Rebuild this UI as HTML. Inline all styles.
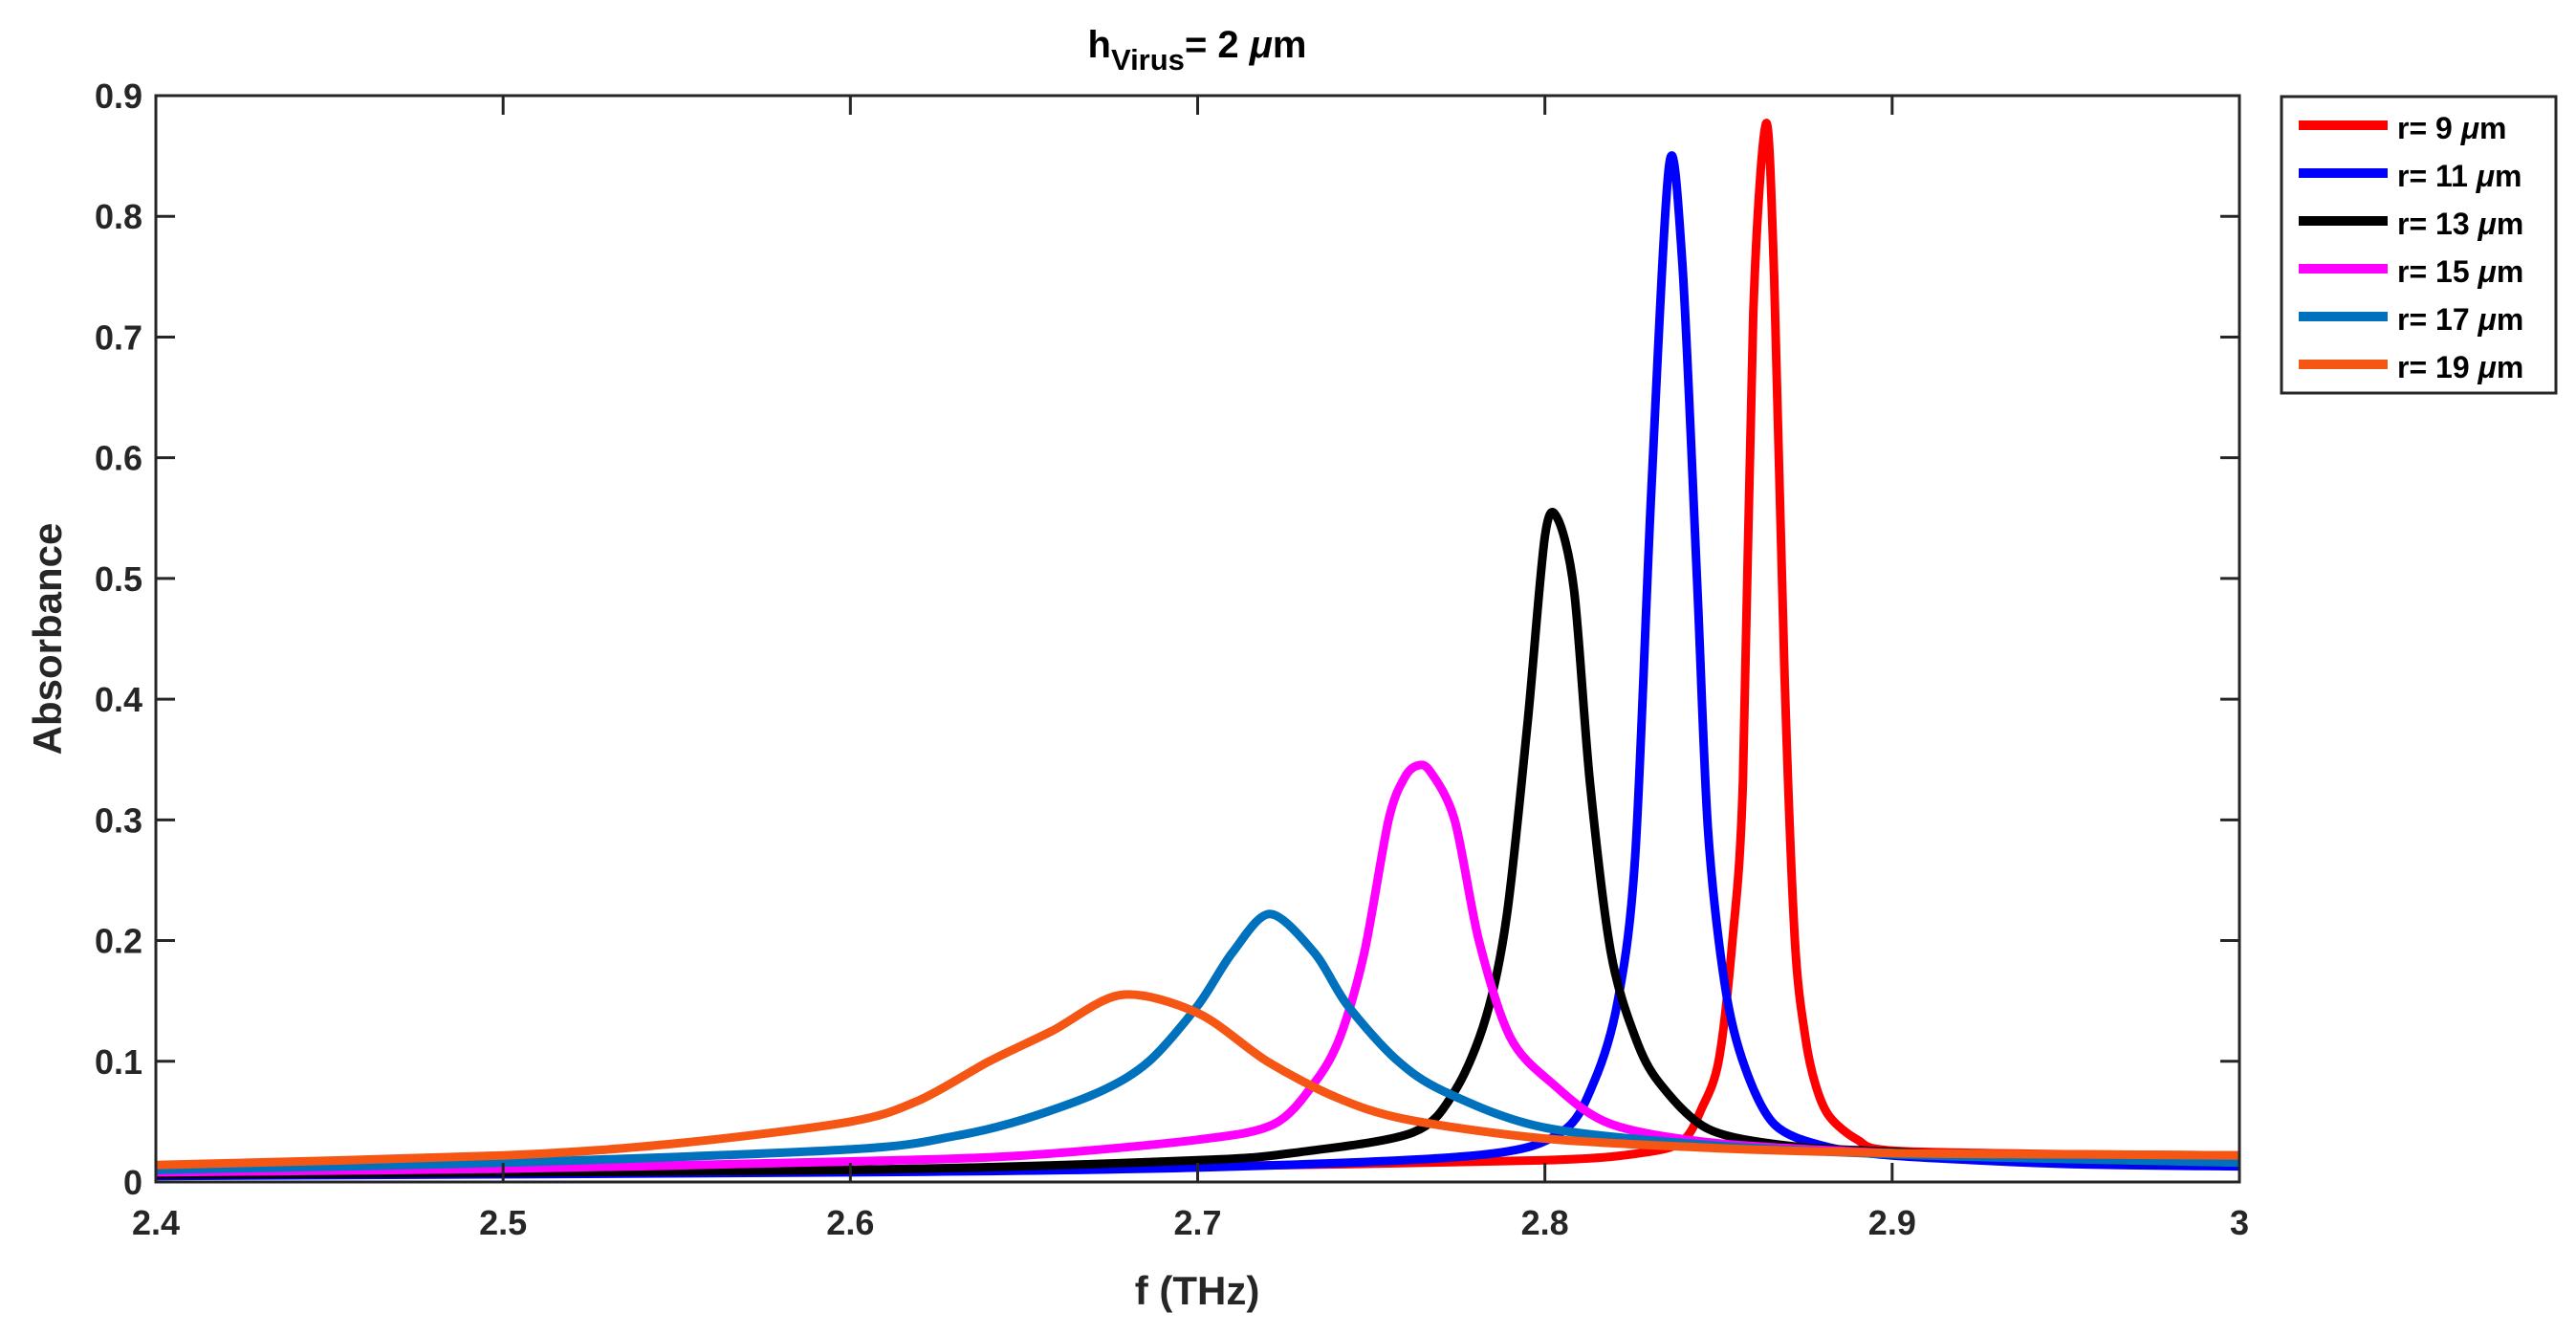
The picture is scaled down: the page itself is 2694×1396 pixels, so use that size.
<!DOCTYPE html>
<html><head><meta charset="utf-8"><style>
html,body{margin:0;padding:0;background:#fff;}
svg{display:block;font-family:"Liberation Sans",Arial,sans-serif;}
</style></head><body>
<svg id="chart" width="2694" height="1396" viewBox="0 0 2694 1396">
<rect x="0" y="0" width="2694" height="1396" fill="#fff"/>
<g id="plot"></g>
<g id="axes"></g>
<text x="1252" y="60" text-anchor="middle" font-size="40" font-weight="bold" fill="#000">h<tspan font-size="31" dy="13">Virus</tspan><tspan dy="-13">= 2 </tspan><tspan font-style="italic">μ</tspan>m</text>
<text x="1252" y="1364" text-anchor="middle" font-size="42" font-weight="bold" fill="#262626">f (THz)</text>
<text transform="translate(64,668) rotate(-90)" text-anchor="middle" font-size="42" font-weight="bold" fill="#262626">Absorbance</text>
<g id="legend"></g>
</svg>
<script>
const seriesNames = ["r= 9 ","r= 11 ","r= 13 ","r= 15 ","r= 17 ","r= 19 "];
const seriesColors = ["#ff0000","#0000ff","#000000","#ff00ff","#0072bd","#f55614"];
const xTicks = [2.4,2.5,2.6,2.7,2.8,2.9,3.0];
const xTickLabels = ["2.4","2.5","2.6","2.7","2.8","2.9","3"];
const yTicks = [0,0.1,0.2,0.3,0.4,0.5,0.6,0.7,0.8,0.9];
const yTickLabels = ["0","0.1","0.2","0.3","0.4","0.5","0.6","0.7","0.8","0.9"];
const red_f = [2.4,2.6,2.7,2.8,2.83,2.84,2.845,2.85,2.854,2.857,2.86,2.8637,2.866,2.869,2.872,2.875,2.878,2.882,2.89,2.9,2.95,3.0];
const red_a = [0.008,0.01,0.013,0.018,0.025,0.035,0.06,0.1,0.2,0.33,0.72,0.877,0.75,0.42,0.2,0.12,0.08,0.054,0.035,0.026,0.023,0.022];
const blue_f = [2.4,2.6,2.7,2.78,2.8046,2.814,2.821,2.826,2.8306,2.8358,2.8396,2.8438,2.847,2.852,2.8576,2.866,2.88,2.9,2.95,3.0];
const blue_a = [0.005,0.008,0.012,0.022,0.041,0.082,0.15,0.27,0.57,0.843,0.76,0.5,0.29,0.16,0.095,0.048,0.03,0.022,0.015,0.013];
const black_f = [2.4,2.6,2.7,2.73,2.762,2.774,2.783,2.789,2.795,2.8,2.8036,2.8084,2.813,2.819,2.826,2.833,2.847,2.87,2.9,2.95,3.0];
const black_a = [0.006,0.01,0.018,0.025,0.041,0.075,0.136,0.22,0.38,0.535,0.55,0.49,0.33,0.19,0.12,0.082,0.044,0.03,0.025,0.019,0.016];
const mag_f = [2.4,2.5,2.6,2.65,2.7,2.722,2.7336,2.741,2.748,2.755,2.7596,2.7634,2.767,2.774,2.781,2.79,2.802,2.819,2.85,2.9,2.95,3.0];
const mag_a = [0.008,0.011,0.017,0.022,0.035,0.048,0.082,0.12,0.19,0.3,0.335,0.345,0.34,0.3,0.2,0.12,0.082,0.048,0.032,0.024,0.02,0.018];
const sb_f = [2.4,2.5,2.6,2.63,2.65,2.672,2.686,2.7,2.71,2.7208,2.7336,2.743,2.757,2.771,2.8,2.85,2.9,2.95,3.0];
const sb_a = [0.01,0.016,0.027,0.038,0.052,0.075,0.1,0.146,0.19,0.222,0.19,0.147,0.102,0.075,0.045,0.03,0.023,0.019,0.016];
const or_f = [2.4,2.5,2.55,2.6,2.62,2.64,2.658,2.678,2.7,2.72,2.74,2.76,2.8,2.85,2.9,2.95,3.0];
const or_a = [0.014,0.022,0.032,0.05,0.068,0.1,0.125,0.155,0.14,0.1,0.07,0.052,0.036,0.028,0.024,0.023,0.022];
const seriesF = [red_f,blue_f,black_f,mag_f,sb_f,or_f];
const seriesA = [red_a,blue_a,black_a,mag_a,sb_a,or_a];

const L=163,R=2342,T=100,B=1236;
function xs(f){return L+(f-2.4)/0.6*(R-L);}
function ys(a){return B-a/0.9*(B-T);}
const NS="http://www.w3.org/2000/svg";
const plot=document.getElementById('plot'),axes=document.getElementById('axes'),legend=document.getElementById('legend');
function mk(t,attrs,parent){const e=document.createElementNS(NS,t);for(const k in attrs)e.setAttribute(k,attrs[k]);parent.appendChild(e);return e;}
function smooth(p){
  let d='M'+p[0][0].toFixed(1)+','+p[0][1].toFixed(1);
  for(let i=0;i<p.length-1;i++){
    const p0=p[Math.max(0,i-1)],p1=p[i],p2=p[i+1],p3=p[Math.min(p.length-1,i+2)];
    const k=0.15;
    const c1=[p1[0]+(p2[0]-p0[0])*k,p1[1]+(p2[1]-p0[1])*k];
    const c2=[p2[0]-(p3[0]-p1[0])*k,p2[1]-(p3[1]-p1[1])*k];
    d+=' C'+c1[0].toFixed(1)+','+c1[1].toFixed(1)+' '+c2[0].toFixed(1)+','+c2[1].toFixed(1)+' '+p2[0].toFixed(1)+','+p2[1].toFixed(1);
  }
  return d;
}
const clip=mk('clipPath',{id:'clp'},plot);
mk('rect',{x:L,y:T-20,width:R-L,height:B-T+20},clip);
for(let i=0;i<seriesF.length;i++){
  const pts=seriesF[i].map((f,j)=>[xs(f),ys(seriesA[i][j])]);
  const pl=mk('path',{d:smooth(pts),fill:'none',stroke:seriesColors[i],'stroke-width':9,'stroke-linejoin':'round','clip-path':'url(#clp)'},plot);
  
  
}
const frame=mk('rect',{x:L,y:T,width:R-L,height:B-T,fill:'none',stroke:'#262626','stroke-width':3},axes);


xTicks.forEach((v,i)=>{
  const x=xs(v);
  mk('line',{x1:x,y1:B,x2:x,y2:B-20,stroke:'#262626','stroke-width':3},axes);
  mk('line',{x1:x,y1:T,x2:x,y2:T+20,stroke:'#262626','stroke-width':3},axes);
  const t=mk('text',{x:x,y:B+55,'text-anchor':'middle','font-size':36,'font-weight':'bold',fill:'#262626'},axes);
  t.textContent=xTickLabels[i];
  
  
});
yTicks.forEach((v,i)=>{
  const y=ys(v);
  mk('line',{x1:L,y1:y,x2:L+20,y2:y,stroke:'#262626','stroke-width':3},axes);
  mk('line',{x1:R,y1:y,x2:R-20,y2:y,stroke:'#262626','stroke-width':3},axes);
  const t=mk('text',{x:L-14,y:y+13,'text-anchor':'end','font-size':36,'font-weight':'bold',fill:'#262626'},axes);
  t.textContent=yTickLabels[i];
  
  
});
const lb=mk('rect',{x:2386,y:101,width:287,height:310,fill:'#fff',stroke:'#262626','stroke-width':3},legend);


seriesNames.forEach((n,i)=>{
  const y=131+i*50;
  const g=mk('g',{},legend);
  
  
  mk('line',{x1:2404,y1:y,x2:2497,y2:y,stroke:seriesColors[i],'stroke-width':10},g);
  const t=mk('text',{x:2507,y:y+14,'font-size':32,'font-weight':'bold',fill:'#000'},g);
  t.textContent=n;
  const mu=mk('tspan',{'font-style':'italic'},t);mu.textContent='μ';
  const m=mk('tspan',{},t);m.textContent='m';
});
</script>
</body></html>
